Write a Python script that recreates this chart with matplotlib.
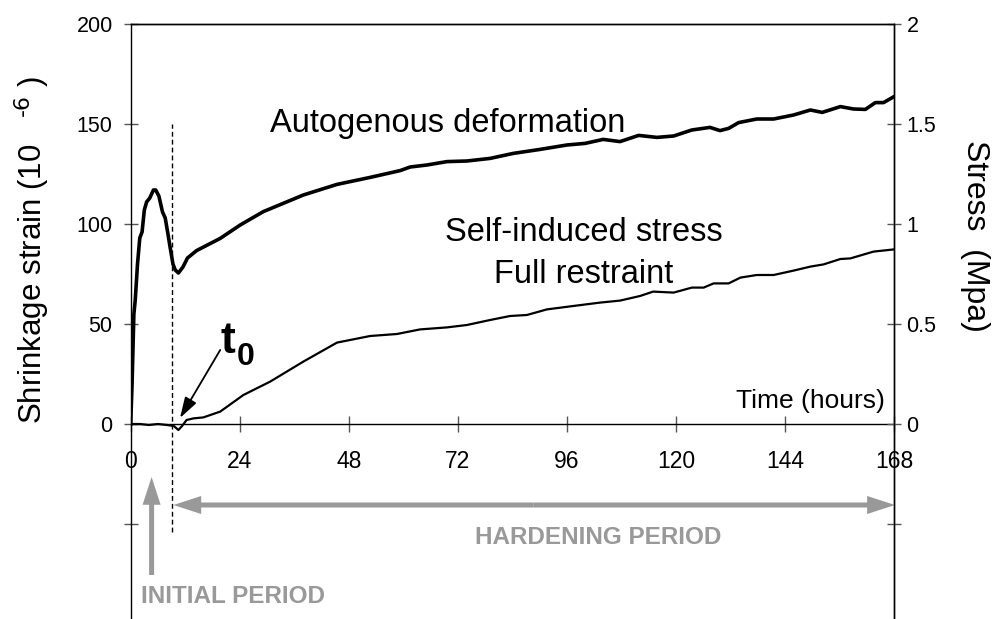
import matplotlib
matplotlib.use("Agg")
import matplotlib.pyplot as plt
from matplotlib.patches import FancyArrowPatch
from matplotlib.ticker import FixedLocator, FixedFormatter

plt.rcParams['font.family'] = ['Liberation Sans', 'DejaVu Sans']
plt.rcParams['mathtext.default'] = 'regular'

# ---- data ----
hours_auto = [0, 0.3, 0.7, 1.0, 1.5, 2.0, 2.5, 3.0, 3.5, 4.2, 5.0, 5.5, 6.2, 7.0, 7.6,
              8.2, 8.7, 9.3, 9.8, 10.5, 11.5, 12.5, 14.5, 19.7, 24.1, 29.2, 38.0, 45.4,
              52.7, 59.3, 61.5, 65.2, 69.6, 74.0, 79.1, 84.2, 90.1, 96.0, 100.0, 104.0,
              107.7, 111.8, 115.8, 119.5, 123.5, 127.5, 129.7, 131.6, 133.8, 137.8,
              141.5, 145.9, 149.6, 152.2, 156.2, 159.1, 161.7, 163.9, 165.7, 168.0]
strain_auto = [0, 20, 55, 62, 80, 93, 96, 107, 111, 113, 117, 117, 114, 106, 103,
               95, 88, 80, 77, 75.5, 78.5, 83, 86.7, 92.8, 99.5, 106.2, 114.5, 119.8,
               123.3, 126.7, 128.5, 129.5, 131.2, 131.5, 132.8, 135.3, 137.3, 139.5, 140.3, 142.3,
               141.2, 144.3, 143.3, 144.0, 147.0, 148.3, 146.7, 147.8, 150.7, 152.5,
               152.5, 154.5, 157.0, 155.8, 158.7, 157.5, 157.3, 160.7, 160.7, 163.7]

hours_stress = [0, 2, 4, 6, 8, 9.5, 10.5, 11.3, 12.3, 13.8, 16.0, 19.7, 24.8, 30.7, 38.0,
                45.4, 52.7, 58.6, 63.7, 69.6, 74.0, 79.1, 83.5, 87.2, 91.6, 97.4, 103.3,
                107.7, 112.1, 115.0, 119.5, 123.5, 126.1, 128.3, 131.6, 134.2, 137.8,
                141.5, 145.9, 149.6, 152.5, 156.2, 158.4, 163.5, 168.0]
stress_mpa = [0, 0, -0.005, 0, -0.005, -0.01, -0.03, -0.01, 0.02, 0.028, 0.033, 0.062,
              0.145, 0.212, 0.312, 0.407, 0.44, 0.45, 0.473, 0.483, 0.495, 0.52, 0.54,
              0.545, 0.573, 0.59, 0.607, 0.617, 0.64, 0.662, 0.657, 0.682, 0.682, 0.703,
              0.703, 0.732, 0.745, 0.745, 0.767, 0.787, 0.798, 0.825, 0.828, 0.862, 0.873]

x_ticks = [0, 24, 48, 72, 96, 120, 144, 168]
x_ticklabels = ['0', '24', '48', '72', '96', '120', '144', '168']
left_ticks = [-50, 0, 50, 100, 150, 200]
left_ticklabels = ['', '0', '50', '100', '150', '200']
right_ticks = [-0.5, 0, 0.5, 1, 1.5, 2]
right_ticklabels = ['', '0', '0.5', '1', '1.5', '2']

t0_hour = 9.2
gray = '#999999'

# ---- figure ----
fig = plt.figure(figsize=(9.97, 6.19), dpi=100)
ax = fig.add_axes([130.7 / 997, 0.0, (894 - 130.7) / 997, 595 / 619])
ax.set_xlim(0, 168)
ax.set_ylim(-97.5, 200)
ax2 = ax.twinx()
ax2.set_ylim(-0.975, 2.0)

for a in (ax, ax2):
    for s in a.spines.values():
        s.set_linewidth(1.0)
        s.set_color('black')
ax.spines['bottom'].set_position(('data', 0))
ax2.spines['bottom'].set_visible(False)
ax2.spines['left'].set_visible(False)

ax.xaxis.set_major_locator(FixedLocator(x_ticks))
ax.xaxis.set_major_formatter(FixedFormatter(x_ticklabels))
ax.yaxis.set_major_locator(FixedLocator(left_ticks))
ax.yaxis.set_major_formatter(FixedFormatter(left_ticklabels))
ax2.yaxis.set_major_locator(FixedLocator(right_ticks))
ax2.yaxis.set_major_formatter(FixedFormatter(right_ticklabels))

ax.tick_params(axis='x', direction='inout', length=11, width=1.0, color='#555555',
               labelsize=16.5, pad=13)
ax.tick_params(axis='y', direction='inout', length=10, width=1.0, color='#555555',
               labelsize=15.5, pad=8)
ax2.tick_params(axis='y', direction='inout', length=10, width=1.0, color='#555555',
                labelsize=15.5, pad=4)

# curves
ax.plot(hours_auto, strain_auto, color='black', lw=2.6, solid_joinstyle='round', zorder=5)
ax2.plot(hours_stress, stress_mpa, color='black', lw=1.6, solid_joinstyle='round', zorder=5)

# dashed t0 line
ax.plot([t0_hour, t0_hour], [-54, 150], color='black', lw=1.0, ls=(0, (3.5, 2.2)), zorder=3)

# gray arrows
def fat_arrow(p0, p1):
    arr = FancyArrowPatch(p0, p1, arrowstyle='simple,head_length=2.0,head_width=1.3,tail_width=0.36',
                          mutation_scale=10, color=gray, lw=0, shrinkA=0, shrinkB=0,
                          transform=ax.transData, clip_on=False, zorder=4)
    ax.add_patch(arr)

mid = (t0_hour + 168) / 2
fat_arrow((mid, -40.5), (t0_hour + 0.2, -40.5))
fat_arrow((mid, -40.5), (168.2, -40.5))
fat_arrow((4.6, -75.5), (4.6, -26.5))

ax.text(2.2, -89.5, 'INITIAL PERIOD', color=gray, fontsize=17.5, fontweight='bold',
        ha='left', va='baseline')
ax.text(75.8, -60, 'HARDENING PERIOD', color=gray, fontsize=17.5, fontweight='bold',
        ha='left', va='baseline')

# labels
ax.text(30.7, 146, 'Autogenous deformation', fontsize=23.5, ha='left', va='baseline')
ax.text(99.7, 91.5, 'Self-induced stress', fontsize=23.5, ha='center', va='baseline')
ax.text(99.7, 70.5, 'Full restraint', fontsize=23.5, ha='center', va='baseline')
ax.text(166, 8, 'Time (hours)', fontsize=19, ha='right', va='baseline')

# t0 annotation
ax.text(19.7, 35.5, 't', fontsize=32, fontweight='bold', ha='left', va='baseline',
        family=['Liberation Sans Narrow', 'Liberation Sans'])
ax.text(23.3, 29.5, '0', fontsize=23, fontweight='bold', ha='left', va='baseline',
        family=['Liberation Sans Narrow', 'Liberation Sans'])
ax.annotate('', xy=(10.85, 3), xytext=(19.7, 37),
            arrowprops=dict(arrowstyle='-|>,head_length=0.9,head_width=0.28', lw=1.3,
                            color='black', shrinkA=0, shrinkB=0, mutation_scale=14))

fig.text(32 / 997, 1 - 250 / 619, r'Shrinkage strain (10   $^{\text{-6}}$ )', fontsize=22.5,
         rotation=90, ha='center', va='center')
fig.text(975 / 997, 1 - 236 / 619, 'Stress  (Mpa)', fontsize=23,
         rotation=-90, ha='center', va='center')

fig.savefig('out.png', dpi=100)
